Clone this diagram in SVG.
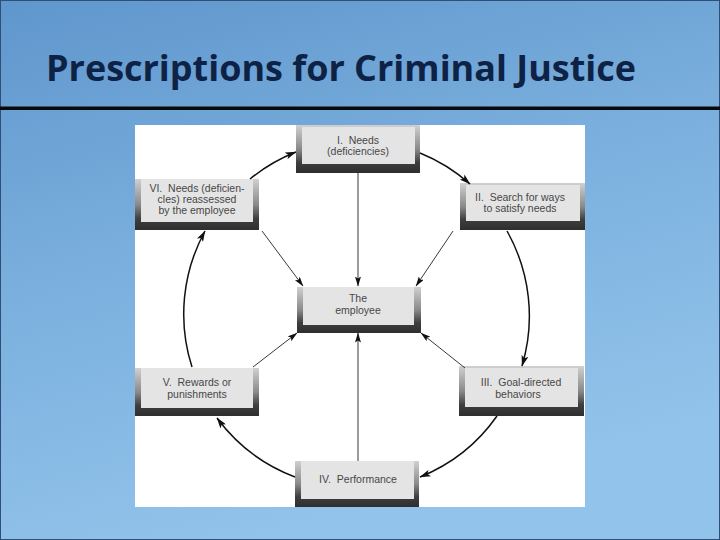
<svg xmlns="http://www.w3.org/2000/svg" width="720" height="540" viewBox="0 0 720 540">
<defs>
<linearGradient id="bg" x1="0" y1="0" x2="0.35" y2="1">
<stop offset="0" stop-color="#5f96cc"/>
<stop offset="0.5" stop-color="#7bb0de"/>
<stop offset="1" stop-color="#92c3ea"/>
</linearGradient>
<linearGradient id="frame" x1="0" y1="0" x2="0" y2="1">
<stop offset="0" stop-color="#d0d0d0"/>
<stop offset="0.5" stop-color="#8a8a8a"/>
<stop offset="0.78" stop-color="#3e3e3e"/>
<stop offset="1" stop-color="#2e2e2e"/>
</linearGradient>
<marker id="ah" viewBox="0 0 11 7" refX="10.5" refY="3.5" markerWidth="11" markerHeight="7" markerUnits="userSpaceOnUse" orient="auto">
<path d="M0,0 L11,3.5 L0,7 L2.5,3.5 z" fill="#111"/>
</marker>
<marker id="ahs" viewBox="0 0 10 6" refX="9.5" refY="3" markerWidth="10" markerHeight="6" markerUnits="userSpaceOnUse" orient="auto">
<path d="M0,0 L10,3 L0,6 L2,3 z" fill="#111"/>
</marker>
</defs>
<style>
.frame{fill:url(#frame)}
.face{fill:#e4e4e4}
.lbl{font-family:"Liberation Sans",Arial,sans-serif;font-size:10.5px;fill:#474747;text-anchor:middle}
.outer{fill:none;stroke:#111;stroke-width:1.5}
.inner{fill:none;stroke:#222;stroke-width:0.9}
.title{font-family:"Open Sans","Noto Sans",sans-serif;font-weight:bold;font-size:36px;fill:#0e2246}
</style>
<rect x="0" y="0" width="720" height="540" fill="url(#bg)"/>
<rect x="0.5" y="0.5" width="719" height="539" fill="none" stroke="#2f4f78" stroke-width="1"/>
<text class="title" x="46" y="81" textLength="590" lengthAdjust="spacingAndGlyphs">Prescriptions for Criminal Justice</text>
<rect x="0" y="106.5" width="720" height="3.5" fill="#0a0a0a"/>
<rect x="135" y="125" width="450" height="382" fill="#ffffff"/>

<g id="node-I">
<rect class="frame" x="296" y="125" width="124" height="48"/>
<rect class="face" x="302" y="127" width="113" height="37"/>
<text class="lbl" x="358" y="144" xml:space="preserve">I.  Needs</text>
<text class="lbl" x="358" y="155">(deficiencies)</text>
</g>
<g id="node-II">
<rect class="frame" x="460" y="183" width="125" height="47"/>
<rect class="face" x="466" y="185" width="114" height="36"/>
<text class="lbl" x="520" y="201" xml:space="preserve">II.  Search for ways</text>
<text class="lbl" x="520" y="212">to satisfy needs</text>
</g>
<g id="node-III">
<rect class="frame" x="459" y="366" width="125" height="50"/>
<rect class="face" x="465" y="368" width="113" height="39"/>
<text class="lbl" x="521" y="386" xml:space="preserve">III.  Goal-directed</text>
<text class="lbl" x="518" y="398">behaviors</text>
</g>
<g id="node-IV">
<rect class="frame" x="295" y="461" width="124" height="46"/>
<rect class="face" x="301" y="461" width="113" height="38"/>
<text class="lbl" x="358" y="483" xml:space="preserve">IV.  Performance</text>
</g>
<g id="node-V">
<rect class="frame" x="135" y="368" width="124" height="48"/>
<rect class="face" x="141" y="368" width="112" height="40"/>
<text class="lbl" x="197" y="386" xml:space="preserve">V.  Rewards or</text>
<text class="lbl" x="197" y="398">punishments</text>
</g>
<g id="node-VI">
<rect class="frame" x="135" y="179" width="124" height="51"/>
<rect class="face" x="141" y="179" width="112" height="43"/>
<text class="lbl" x="197" y="192" xml:space="preserve">VI.  Needs (deficien-</text>
<text class="lbl" x="197" y="203">cles) reassessed</text>
<text class="lbl" x="197" y="214">by the employee</text>
</g>
<g id="node-employee">
<rect class="frame" x="297" y="287" width="124" height="46"/>
<rect class="face" x="303" y="287" width="111" height="38"/>
<text class="lbl" x="358" y="302">The</text>
<text class="lbl" x="358" y="314">employee</text>
</g>

<g id="connectors">
<path class="outer" d="M420,153 A173,173 0 0 1 470,184" marker-end="url(#ah)"/>
<path class="outer" d="M507,231 A173,173 0 0 1 522,366" marker-end="url(#ah)"/>
<path class="outer" d="M497,416 A173,173 0 0 1 420,477" marker-end="url(#ah)"/>
<path class="outer" d="M295,477 A173,173 0 0 1 217,418" marker-end="url(#ah)"/>
<path class="outer" d="M192,367 A173,173 0 0 1 205,231" marker-end="url(#ah)"/>
<path class="outer" d="M250,179 A173,173 0 0 1 296,152" marker-end="url(#ah)"/>
<path class="inner" d="M358,173 L358,286" marker-end="url(#ahs)"/>
<path class="inner" d="M453,231 L416,286" marker-end="url(#ahs)"/>
<path class="inner" d="M465,368 L421,333" marker-end="url(#ahs)"/>
<path class="inner" d="M358,461 L358,333" marker-end="url(#ahs)"/>
<path class="inner" d="M253,367 L297,333" marker-end="url(#ahs)"/>
<path class="inner" d="M262,231 L303,286" marker-end="url(#ahs)"/>
</g>
</svg>
